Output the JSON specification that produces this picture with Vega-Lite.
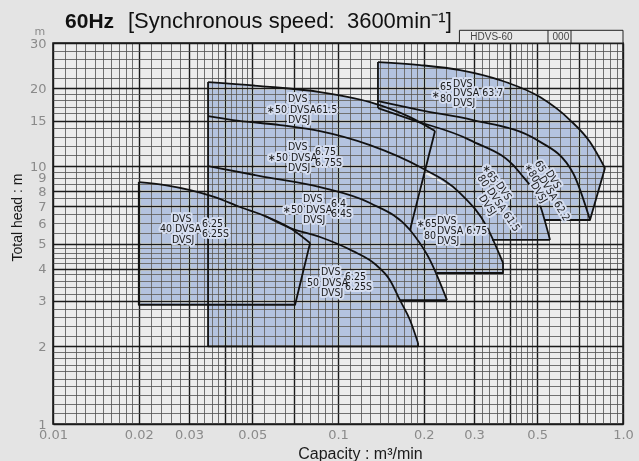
{
  "$schema": "https://vega.github.io/schema/vega-lite/v6.json",
  "width": 570,
  "height": 381,
  "autosize": {"type": "none"},
  "padding": {"left": 53, "top": 43, "right": 16, "bottom": 37},
  "background": "#e4e4e4",
  "config": {"view": {"fill": "#ececec", "stroke": "#111111", "strokeWidth": 1.5}},
  "datasets": {
    "poly": [
      {"id": "P40", "o": 0, "q": 0.02, "h": 2.9}, {"id": "P40", "o": 1, "q": 0.02, "h": 8.67}, {"id": "P40", "o": 2, "q": 0.0247, "h": 8.44}, {"id": "P40", "o": 3, "q": 0.0303, "h": 8.07}, {"id": "P40", "o": 4, "q": 0.037, "h": 7.58}, {"id": "P40", "o": 5, "q": 0.0453, "h": 6.94}, {"id": "P40", "o": 6, "q": 0.0555, "h": 6.4}, {"id": "P40", "o": 7, "q": 0.0679, "h": 5.75}, {"id": "P40", "o": 8, "q": 0.0798, "h": 5.03}, {"id": "P40", "o": 9, "q": 0.0707, "h": 2.9},
      {"id": "P50", "o": 0, "q": 0.035, "h": 2.0}, {"id": "P50", "o": 1, "q": 0.035, "h": 21.16}, {"id": "P50", "o": 2, "q": 0.0533, "h": 20.42}, {"id": "P50", "o": 3, "q": 0.0865, "h": 19.36}, {"id": "P50", "o": 4, "q": 0.1295, "h": 17.7}, {"id": "P50", "o": 5, "q": 0.1789, "h": 15.48}, {"id": "P50", "o": 6, "q": 0.219, "h": 13.67}, {"id": "P50", "o": 7, "q": 0.1789, "h": 5.65}, {"id": "P50", "o": 8, "q": 0.2103, "h": 4.32}, {"id": "P50", "o": 9, "q": 0.2225, "h": 3.85}, {"id": "P50", "o": 10, "q": 0.2413, "h": 3.02}, {"id": "P50", "o": 11, "q": 0.165, "h": 3.02}, {"id": "P50", "o": 12, "q": 0.1789, "h": 2.53}, {"id": "P50", "o": 13, "q": 0.1909, "h": 2.06}, {"id": "P50", "o": 14, "q": 0.1909, "h": 2.0},
      {"id": "P65a", "o": 0, "q": 0.1789, "h": 5.65}, {"id": "P65a", "o": 1, "q": 0.2036, "h": 9.3}, {"id": "P65a", "o": 2, "q": 0.268, "h": 7.86}, {"id": "P65a", "o": 3, "q": 0.3333, "h": 5.8}, {"id": "P65a", "o": 4, "q": 0.3793, "h": 4.21}, {"id": "P65a", "o": 5, "q": 0.3793, "h": 3.85}, {"id": "P65a", "o": 6, "q": 0.2225, "h": 3.85}, {"id": "P65a", "o": 7, "q": 0.2103, "h": 4.32},
      {"id": "P65b", "o": 0, "q": 0.1381, "h": 25.3}, {"id": "P65b", "o": 1, "q": 0.194, "h": 24.63}, {"id": "P65b", "o": 2, "q": 0.268, "h": 23.56}, {"id": "P65b", "o": 3, "q": 0.3702, "h": 21.54}, {"id": "P65b", "o": 4, "q": 0.5114, "h": 18.51}, {"id": "P65b", "o": 5, "q": 0.6516, "h": 15.08}, {"id": "P65b", "o": 6, "q": 0.766, "h": 12.39}, {"id": "P65b", "o": 7, "q": 0.8645, "h": 9.82}, {"id": "P65b", "o": 8, "q": 0.766, "h": 6.18}, {"id": "P65b", "o": 9, "q": 0.528, "h": 6.18}, {"id": "P65b", "o": 10, "q": 0.5545, "h": 5.17}, {"id": "P65b", "o": 11, "q": 0.347, "h": 5.17}, {"id": "P65b", "o": 12, "q": 0.3333, "h": 5.8}, {"id": "P65b", "o": 13, "q": 0.268, "h": 7.86}, {"id": "P65b", "o": 14, "q": 0.194, "h": 9.91}, {"id": "P65b", "o": 15, "q": 0.1381, "h": 11.8}
    ],
    "curves": [
      {"id": "C40", "o": 0, "q": 0.02, "h": 8.67}, {"id": "C40", "o": 1, "q": 0.0247, "h": 8.44}, {"id": "C40", "o": 2, "q": 0.0303, "h": 8.07}, {"id": "C40", "o": 3, "q": 0.037, "h": 7.58}, {"id": "C40", "o": 4, "q": 0.0453, "h": 6.94}, {"id": "C40", "o": 5, "q": 0.0555, "h": 6.4}, {"id": "C40", "o": 6, "q": 0.0679, "h": 5.75}, {"id": "C40", "o": 7, "q": 0.0798, "h": 5.03},
      {"id": "CS3", "o": 0, "q": 0.035, "h": 21.16}, {"id": "CS3", "o": 1, "q": 0.0533, "h": 20.42}, {"id": "CS3", "o": 2, "q": 0.0865, "h": 19.36}, {"id": "CS3", "o": 3, "q": 0.1295, "h": 17.7}, {"id": "CS3", "o": 4, "q": 0.1789, "h": 15.48}, {"id": "CS3", "o": 5, "q": 0.219, "h": 13.67},
      {"id": "CP", "o": 0, "q": 0.035, "h": 15.62}, {"id": "CP", "o": 1, "q": 0.0428, "h": 15.08}, {"id": "CP", "o": 2, "q": 0.0626, "h": 14.42}, {"id": "CP", "o": 3, "q": 0.0865, "h": 13.67}, {"id": "CP", "o": 4, "q": 0.1295, "h": 12.06}, {"id": "CP", "o": 5, "q": 0.194, "h": 9.91}, {"id": "CP", "o": 6, "q": 0.268, "h": 7.86}, {"id": "CP", "o": 7, "q": 0.3333, "h": 5.8}, {"id": "CP", "o": 8, "q": 0.3793, "h": 4.21},
      {"id": "CQ", "o": 0, "q": 0.035, "h": 10.0}, {"id": "CQ", "o": 1, "q": 0.0533, "h": 9.15}, {"id": "CQ", "o": 2, "q": 0.0865, "h": 8.29}, {"id": "CQ", "o": 3, "q": 0.1295, "h": 7.19}, {"id": "CQ", "o": 4, "q": 0.1789, "h": 5.65}, {"id": "CQ", "o": 5, "q": 0.2103, "h": 4.32}, {"id": "CQ", "o": 6, "q": 0.2413, "h": 3.02},
      {"id": "CR", "o": 0, "q": 0.0555, "h": 6.4}, {"id": "CR", "o": 1, "q": 0.0679, "h": 5.75}, {"id": "CR", "o": 2, "q": 0.0865, "h": 5.31}, {"id": "CR", "o": 3, "q": 0.1129, "h": 4.68}, {"id": "CR", "o": 4, "q": 0.1348, "h": 4.17}, {"id": "CR", "o": 5, "q": 0.1522, "h": 3.61}, {"id": "CR", "o": 6, "q": 0.165, "h": 3.02}, {"id": "CR", "o": 7, "q": 0.1789, "h": 2.53}, {"id": "CR", "o": 8, "q": 0.1909, "h": 2.06},
      {"id": "CS8", "o": 0, "q": 0.1381, "h": 25.3}, {"id": "CS8", "o": 1, "q": 0.194, "h": 24.63}, {"id": "CS8", "o": 2, "q": 0.268, "h": 23.56}, {"id": "CS8", "o": 3, "q": 0.3702, "h": 21.54}, {"id": "CS8", "o": 4, "q": 0.5114, "h": 18.51}, {"id": "CS8", "o": 5, "q": 0.6516, "h": 15.08}, {"id": "CS8", "o": 6, "q": 0.766, "h": 12.39}, {"id": "CS8", "o": 7, "q": 0.8645, "h": 9.82},
      {"id": "CE8", "o": 0, "q": 0.1381, "h": 17.86}, {"id": "CE8", "o": 1, "q": 0.194, "h": 16.49}, {"id": "CE8", "o": 2, "q": 0.2977, "h": 15.08}, {"id": "CE8", "o": 3, "q": 0.4991, "h": 12.61}, {"id": "CE8", "o": 4, "q": 0.6677, "h": 9.4}, {"id": "CE8", "o": 5, "q": 0.766, "h": 6.18},
      {"id": "CE9", "o": 0, "q": 0.1381, "h": 16.78}, {"id": "CE9", "o": 1, "q": 0.1833, "h": 15.08}, {"id": "CE9", "o": 2, "q": 0.2905, "h": 12.61}, {"id": "CE9", "o": 3, "q": 0.4351, "h": 9.4}, {"id": "CE9", "o": 4, "q": 0.5114, "h": 7.06}, {"id": "CE9", "o": 5, "q": 0.5545, "h": 5.17}
    ],
    "segs": [
      {"id": "S40", "o": 0, "q": 0.0798, "h": 5.03}, {"id": "S40", "o": 1, "q": 0.0707, "h": 2.9}, {"id": "S40", "o": 2, "q": 0.02, "h": 2.9}, {"id": "S40", "o": 3, "q": 0.02, "h": 8.67},
      {"id": "S50", "o": 0, "q": 0.035, "h": 21.16}, {"id": "S50", "o": 1, "q": 0.035, "h": 2.0}, {"id": "S50", "o": 2, "q": 0.1909, "h": 2.0}, {"id": "S50", "o": 3, "q": 0.1909, "h": 2.06},
      {"id": "SSL", "o": 0, "q": 0.219, "h": 13.67}, {"id": "SSL", "o": 1, "q": 0.1789, "h": 5.65},
      {"id": "SPE", "o": 0, "q": 0.3793, "h": 4.21}, {"id": "SPE", "o": 1, "q": 0.3793, "h": 3.85}, {"id": "SPE", "o": 2, "q": 0.2225, "h": 3.85},
      {"id": "SQE", "o": 0, "q": 0.2413, "h": 3.02}, {"id": "SQE", "o": 1, "q": 0.165, "h": 3.02},
      {"id": "S63a", "o": 0, "q": 0.1381, "h": 16.78}, {"id": "S63a", "o": 1, "q": 0.1381, "h": 25.3},
      {"id": "S63b", "o": 0, "q": 0.8645, "h": 9.82}, {"id": "S63b", "o": 1, "q": 0.766, "h": 6.18}, {"id": "S63b", "o": 2, "q": 0.528, "h": 6.18},
      {"id": "S61", "o": 0, "q": 0.5545, "h": 5.17}, {"id": "S61", "o": 1, "q": 0.347, "h": 5.17}
    ],
    "lab": [
      {"q": 0.02616, "h": 6.23, "t": "DVS"}, {"q": 0.02373, "h": 5.7, "t": "40 DVSA"}, {"q": 0.02616, "h": 5.17, "t": "DVSJ"}, {"q": 0.03333, "h": 5.96, "t": "6.25"}, {"q": 0.03333, "h": 5.45, "t": "6.25S"},
      {"q": 0.08717, "h": 3.88, "t": "DVS"}, {"q": 0.07782, "h": 3.52, "t": "50 DVSA"}, {"q": 0.08717, "h": 3.22, "t": "DVSJ"}, {"q": 0.1058, "h": 3.71, "t": "6.25"}, {"q": 0.1058, "h": 3.4, "t": "6.25S"},
      {"q": 0.07536, "h": 7.45, "t": "DVS"}, {"q": 0.06412, "h": 6.75, "t": "∗50 DVSA"}, {"q": 0.07536, "h": 6.18, "t": "DVSJ"}, {"q": 0.09449, "h": 7.12, "t": "6.4"}, {"q": 0.09449, "h": 6.52, "t": "6.4S"},
      {"q": 0.06678, "h": 11.85, "t": "DVS"}, {"q": 0.05682, "h": 10.74, "t": "∗50 DVSA"}, {"q": 0.06678, "h": 9.82, "t": "DVSJ"}, {"q": 0.08306, "h": 11.33, "t": "6.75"}, {"q": 0.08306, "h": 10.27, "t": "6.75S"},
      {"q": 0.06678, "h": 18.19, "t": "DVS"}, {"q": 0.05636, "h": 16.49, "t": "∗50 DVSA61.5"}, {"q": 0.06678, "h": 15.08, "t": "DVSJ"},
      {"q": 0.2137, "h": 18.85, "t": "∗"}, {"q": 0.228, "h": 20.24, "t": "65"}, {"q": 0.228, "h": 18.19, "t": "80"}, {"q": 0.2533, "h": 20.79, "t": "DVS"}, {"q": 0.2533, "h": 19.19, "t": "DVSA 63.7"}, {"q": 0.2533, "h": 17.54, "t": "DVSJ"},
      {"q": 0.1893, "h": 5.96, "t": "∗65"}, {"q": 0.2003, "h": 5.35, "t": "80"}, {"q": 0.2225, "h": 6.12, "t": "DVS"}, {"q": 0.2225, "h": 5.6, "t": "DVSA 6.75"}, {"q": 0.2225, "h": 5.12, "t": "DVSJ"}
    ],
    "rlab1": [
      {"q": 0.3641, "h": 8.59, "t": "DVS"}, {"q": 0.3387, "h": 8.15, "t": "DVSA 61.5"}, {"q": 0.3176, "h": 7.65, "t": "DVSJ"}, {"q": 0.3261, "h": 10.04, "t": "∗65"}, {"q": 0.3137, "h": 9.15, "t": "80"}
    ],
    "rlab2": [
      {"q": 0.5455, "h": 9.56, "t": "DVS"}, {"q": 0.5157, "h": 9.07, "t": "DVSA 62.2"}, {"q": 0.4831, "h": 8.59, "t": "DVSJ"}, {"q": 0.4991, "h": 10.43, "t": "65"}, {"q": 0.4586, "h": 10.14, "t": "∗80"}
    ],
    "box": [{"q": 0.2667, "q2": 1.0, "h": 30, "h2": 33.6}],
    "boxdiv": [{"q": 0.5455}, {"q": 0.657}],
    "boxtext": [{"q": 0.2913, "h": 31.76, "t": "HDVS-60"}, {"q": 0.566, "h": 31.76, "t": "000"}],
    "head1": [{"q": 0.01102, "h": 34.27, "t": "60Hz"}],
    "head2": [{"q": 0.01833, "h": 34.27, "t": "[Synchronous speed:\u00a0\u00a03600min⁻¹]"}],
    "unit": [{"q": 0.009, "h": 33.1, "t": "m"}]
  },
  "layer": [
    {
      "data": {"name": "poly"},
      "mark": {"type": "line", "interpolate": "linear-closed", "fill": "#b4c3df", "strokeWidth": 0, "blend": "darken"},
      "encoding": {
        "x": {
          "field": "q", "type": "quantitative",
          "scale": {"type": "log", "domain": [0.01, 1], "nice": false},
          "axis": {
            "values": [0.01,0.011,0.012,0.013,0.014,0.015,0.016,0.017,0.018,0.019,0.02,0.022,0.024,0.026,0.028,0.03,0.032,0.034,0.036,0.038,0.04,0.042,0.044,0.046,0.048,0.05,0.055,0.06,0.065,0.07,0.075,0.08,0.085,0.09,0.095,0.1,0.11,0.12,0.13,0.14,0.15,0.16,0.17,0.18,0.19,0.2,0.22,0.24,0.26,0.28,0.3,0.32,0.34,0.36,0.38,0.4,0.42,0.44,0.46,0.48,0.5,0.55,0.6,0.65,0.7,0.75,0.8,0.85,0.9,0.95,1.0],
            "grid": true, "ticks": false, "domain": false,
            "labelExpr": "indexof([0.01,0.02,0.03,0.05,0.1,0.2,0.3,0.5], datum.value) >= 0 ? '' + datum.value : (datum.value == 1 ? '1.0' : '')",
            "labelOverlap": false, "labelFlush": false, "labelColor": "#8a8a8a", "labelFontSize": 13, "labelFont": "DejaVu Sans", "labelPadding": 4,
            "gridColor": {"condition": {"test": "indexof([0.01,0.02,0.03,0.04,0.05,0.07,0.1,0.2,0.3,0.4,0.5,0.7,1.0], datum.value) >= 0", "value": "#1a1a1a"}, "value": "#505050"},
            "gridWidth": {"condition": {"test": "indexof([0.01,0.02,0.03,0.04,0.05,0.07,0.1,0.2,0.3,0.4,0.5,0.7,1.0], datum.value) >= 0", "value": 1.4}, "value": 0.8},
            "title": "Capacity : m³/min", "titleFont": "Liberation Sans", "titleFontSize": 16, "titleFontWeight": "normal", "titleColor": "#1a1a1a",
            "titleX": 307, "titleY": 29, "titleBaseline": "middle", "titleAlign": "center"
          }
        },
        "y": {
          "field": "h", "type": "quantitative",
          "scale": {"type": "log", "domain": [1, 30], "nice": false},
          "axis": {
            "values": [1,1.1,1.2,1.3,1.4,1.5,1.6,1.7,1.8,1.9,2,2.2,2.4,2.6,2.8,3,3.2,3.4,3.6,3.8,4,4.2,4.4,4.6,4.8,5,5.5,6,6.5,7,7.5,8,8.5,9,9.5,10,11,12,13,14,15,16,17,18,19,20,22,24,26,28,30],
            "grid": true, "ticks": false, "domain": false,
            "labelExpr": "indexof([1,2,3,4,5,6,7,8,9,10,15,20,30], datum.value) >= 0 ? '' + datum.value : ''",
            "labelOverlap": false, "labelFlush": false, "labelColor": "#8a8a8a", "labelFontSize": 13, "labelFont": "DejaVu Sans", "labelPadding": 7,
            "gridColor": {"condition": {"test": "indexof([1,2,3,4,5,7,8,10,15,20,30], datum.value) >= 0", "value": "#1a1a1a"}, "value": "#505050"},
            "gridWidth": {"condition": {"test": "indexof([1,2,3,4,5,7,8,10,15,20,30], datum.value) >= 0", "value": 1.4}, "value": 0.8},
            "title": "Total head : m", "titleFont": "Liberation Sans", "titleFontSize": 14, "titleFontWeight": "normal", "titleColor": "#1a1a1a",
            "titleX": -36, "titleY": 174, "titleAngle": -90, "titleBaseline": "middle", "titleAlign": "center"
          }
        },
        "detail": {"field": "id"},
        "order": {"field": "o", "type": "quantitative"}
      }
    },
    {
      "data": {"name": "curves"},
      "mark": {"type": "line", "interpolate": "monotone", "stroke": "#111111", "strokeWidth": 1.8, "strokeJoin": "round"},
      "encoding": {
        "x": {"field": "q", "type": "quantitative"},
        "y": {"field": "h", "type": "quantitative"},
        "detail": {"field": "id"},
        "order": {"field": "o", "type": "quantitative"}
      }
    },
    {
      "data": {"name": "segs"},
      "mark": {"type": "line", "stroke": "#111111", "strokeWidth": 1.8, "strokeJoin": "round"},
      "encoding": {
        "x": {"field": "q", "type": "quantitative"},
        "y": {"field": "h", "type": "quantitative"},
        "detail": {"field": "id"},
        "order": {"field": "o", "type": "quantitative"}
      }
    },
    {
      "data": {"name": "lab"},
      "mark": {"type": "text", "align": "left", "baseline": "middle", "fontSize": 10.5, "font": "Liberation Sans Narrow, DejaVu Sans Condensed, sans-serif", "stroke": "#d6def0", "strokeWidth": 4, "strokeJoin": "round", "color": "#d6def0"},
      "encoding": {
        "x": {"field": "q", "type": "quantitative"},
        "y": {"field": "h", "type": "quantitative"},
        "text": {"field": "t"}
      }
    },
    {
      "data": {"name": "rlab1"},
      "mark": {"type": "text", "align": "left", "baseline": "middle", "angle": 56, "fontSize": 10.5, "font": "Liberation Sans Narrow, DejaVu Sans Condensed, sans-serif", "stroke": "#d6def0", "strokeWidth": 4, "strokeJoin": "round", "color": "#d6def0"},
      "encoding": {
        "x": {"field": "q", "type": "quantitative"},
        "y": {"field": "h", "type": "quantitative"},
        "text": {"field": "t"}
      }
    },
    {
      "data": {"name": "rlab2"},
      "mark": {"type": "text", "align": "left", "baseline": "middle", "angle": 59, "fontSize": 10.5, "font": "Liberation Sans Narrow, DejaVu Sans Condensed, sans-serif", "stroke": "#d6def0", "strokeWidth": 4, "strokeJoin": "round", "color": "#d6def0"},
      "encoding": {
        "x": {"field": "q", "type": "quantitative"},
        "y": {"field": "h", "type": "quantitative"},
        "text": {"field": "t"}
      }
    },
    {
      "data": {"name": "lab"},
      "mark": {"type": "text", "align": "left", "baseline": "middle", "fontSize": 10.5, "font": "Liberation Sans Narrow, DejaVu Sans Condensed, sans-serif", "color": "#1a1a1a"},
      "encoding": {
        "x": {"field": "q", "type": "quantitative"},
        "y": {"field": "h", "type": "quantitative"},
        "text": {"field": "t"}
      }
    },
    {
      "data": {"name": "rlab1"},
      "mark": {"type": "text", "align": "left", "baseline": "middle", "angle": 56, "fontSize": 10.5, "font": "Liberation Sans Narrow, DejaVu Sans Condensed, sans-serif", "color": "#1a1a1a"},
      "encoding": {
        "x": {"field": "q", "type": "quantitative"},
        "y": {"field": "h", "type": "quantitative"},
        "text": {"field": "t"}
      }
    },
    {
      "data": {"name": "rlab2"},
      "mark": {"type": "text", "align": "left", "baseline": "middle", "angle": 59, "fontSize": 10.5, "font": "Liberation Sans Narrow, DejaVu Sans Condensed, sans-serif", "color": "#1a1a1a"},
      "encoding": {
        "x": {"field": "q", "type": "quantitative"},
        "y": {"field": "h", "type": "quantitative"},
        "text": {"field": "t"}
      }
    },
    {
      "data": {"name": "box"},
      "mark": {"type": "rect", "fill": "#e8e8e8", "stroke": "#222222", "strokeWidth": 1, "clip": false},
      "encoding": {
        "x": {"field": "q", "type": "quantitative"},
        "x2": {"field": "q2"},
        "y": {"field": "h", "type": "quantitative"},
        "y2": {"field": "h2"}
      }
    },
    {
      "data": {"name": "boxdiv"},
      "mark": {"type": "rule", "stroke": "#222222", "strokeWidth": 1},
      "encoding": {
        "x": {"field": "q", "type": "quantitative"},
        "y": {"datum": 30, "type": "quantitative"},
        "y2": {"datum": 33.6}
      }
    },
    {
      "data": {"name": "boxtext"},
      "mark": {"type": "text", "align": "left", "baseline": "middle", "fontSize": 10, "font": "Liberation Sans", "color": "#444444"},
      "encoding": {
        "x": {"field": "q", "type": "quantitative"},
        "y": {"field": "h", "type": "quantitative"},
        "text": {"field": "t"}
      }
    },
    {
      "data": {"name": "head1"},
      "mark": {"type": "text", "align": "left", "baseline": "alphabetic", "fontSize": 21, "fontWeight": "bold", "font": "Liberation Sans", "color": "#111111"},
      "encoding": {
        "x": {"field": "q", "type": "quantitative"},
        "y": {"field": "h", "type": "quantitative"},
        "text": {"field": "t"}
      }
    },
    {
      "data": {"name": "head2"},
      "mark": {"type": "text", "align": "left", "baseline": "alphabetic", "fontSize": 22, "font": "Liberation Sans", "color": "#111111"},
      "encoding": {
        "x": {"field": "q", "type": "quantitative"},
        "y": {"field": "h", "type": "quantitative"},
        "text": {"field": "t"}
      }
    },
    {
      "data": {"name": "unit"},
      "mark": {"type": "text", "align": "center", "baseline": "middle", "fontSize": 11, "font": "DejaVu Sans", "color": "#8a8a8a"},
      "encoding": {
        "x": {"field": "q", "type": "quantitative"},
        "y": {"field": "h", "type": "quantitative"},
        "text": {"field": "t"}
      }
    }
  ]
}
